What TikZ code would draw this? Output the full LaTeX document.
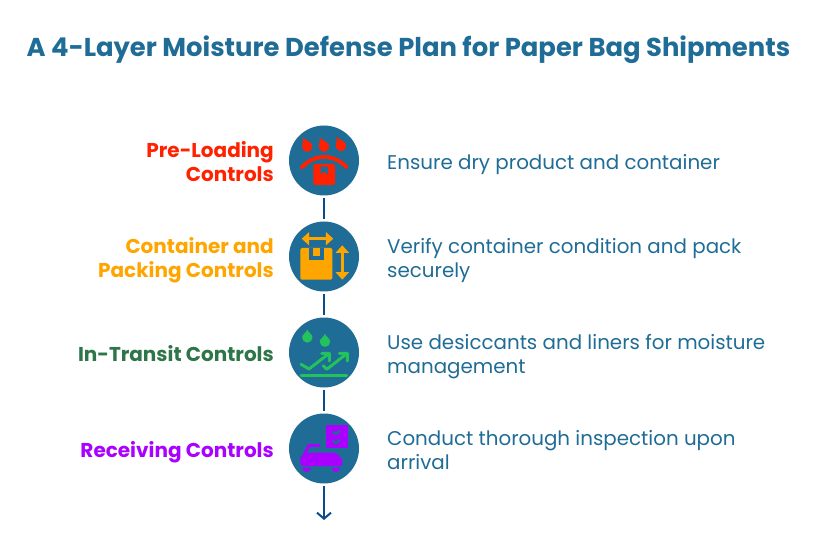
\documentclass[tikz,border=0pt]{standalone}
\usepackage{fontspec}
\setmainfont{Poppins}
\usetikzlibrary{arrows.meta}
\definecolor{bluetone}{HTML}{1F6C96}
\definecolor{linkblue}{HTML}{0A4B8C}
\definecolor{redtone}{HTML}{FF2200}
\definecolor{orangetone}{HTML}{FFA500}
\definecolor{greentone}{HTML}{2E7548}
\definecolor{greenicon}{HTML}{22C25C}
\definecolor{purpletone}{HTML}{AA00FF}
\tikzset{
    stepcircle/.style={circle, fill=bluetone, minimum size=70pt, inner sep=0pt},
    steplabel/.style={anchor=east, align=right, inner sep=0pt, font=\fontsize{20}{24}\selectfont\bfseries},
    stepdesc/.style={anchor=west, align=left, inner sep=0pt, text=bluetone, font=\fontsize{19.85}{24}\selectfont},
    link/.style={linkblue, line width=2pt, shorten <=2.5pt, shorten >=2.5pt},
    doublehead/.style={line width=3.5pt, {Triangle[length=7.5pt, width=13pt]}-{Triangle[length=7.5pt, width=13pt]}}
}
\newcommand{\waterdrop}[4]{% x, y, rotation, tip length
    \fill[shift={(#1,#2)}, rotate=#3] (0,#4) .. controls (0.8,#4*0.6) and (5.2,3.4) .. (5.2,0) arc (0:-180:5.2) .. controls (-5.2,3.4) and (-0.8,#4*0.6) .. (0,#4) -- cycle;
}
\begin{document}
\begin{tikzpicture}[x=1pt, y=1pt]
    \useasboundingbox (0,0) rectangle (817,-556);
    \node[inner sep=0pt, text=bluetone, font=\fontsize{25.85}{30}\selectfont\bfseries] (title) at (408.5,-50) {A 4-Layer Moisture Defense Plan for Paper Bag Shipments};
    \foreach \i/\y in {1/-160.5, 2/-256.5, 3/-352.5, 4/-448.5} {
        \node[stepcircle] (c\i) at (324,\y) {};
    }
    \node[steplabel, text=redtone] (l1) at (274,-165) {\strut Pre-Loading\\\strut Controls};
    \node[steplabel, text=orangetone] (l2) at (274,-261) {\strut Container and\\\strut Packing Controls};
    \node[steplabel, text=greentone] (l3) at (274,-357) {\strut In-Transit Controls};
    \node[steplabel, text=purpletone] (l4) at (274,-453) {\strut Receiving Controls};
    \node[stepdesc] (d1) at (387,-165) {\strut Ensure dry product and container};
    \node[stepdesc] (d2) at (387,-261) {\strut Verify container condition and pack\\\strut securely};
    \node[stepdesc] (d3) at (387,-357) {\strut Use desiccants and liners for moisture\\\strut management};
    \node[stepdesc] (d4) at (387,-453) {\strut Conduct thorough inspection upon\\\strut arrival};
    \coordinate (end) at (324,-520);
    \draw[link] (c1) -- (c2);
    \draw[link] (c2) -- (c3);
    \draw[link] (c3) -- (c4);
    \draw[link, -{Straight Barb[length=6pt, width=14pt]}, shorten >=0pt] (c4) -- (end);
    % pre-loading icon
    \begin{scope}[shift={(c1.center)}, redtone]
        \foreach \x/\y in {-16.7/13.8, 0/13.8, 17/14.5} \waterdrop{\x}{\y}{25}{10.5}
        \draw[line width=3.5pt, line cap=round] (-22.3,-6.8) .. controls (-9,7) and (9,7) .. (22.5,-6.5);
        \fill[rounded corners=2pt] (-10.7,-24.5) rectangle (11,-3.5);
        \fill[bluetone] (-3.5,-6.2) -- (3.8,-6.2) -- (3.8,-13.8) -- (0.15,-11) -- (-3.5,-13.8) -- cycle;
    \end{scope}
    % container icon
    \begin{scope}[shift={(c2.center)}, orangetone]
        \fill[rounded corners=1.5pt] (-23.7,-23.2) rectangle (8.3,8.5);
        \fill[bluetone] (-15,8.5) rectangle (0.3,-3.8);
        \fill (-11.3,8.5) rectangle (-4,0.2);
        \draw[doublehead] (-22.3,17.8) -- (9.3,17.8);
        \draw[doublehead] (18.3,11.2) -- (18.3,-23.2);
    \end{scope}
    % transit icon
    \begin{scope}[shift={(c3.center)}, greenicon]
        \waterdrop{-16.7}{15}{0}{8}
        \waterdrop{1}{10.8}{0}{8}
        \draw[line width=3pt, line cap=round, line join=round] (-23,-11.8) -- (-15,-16.5) -- (5.3,-0.8) (-2.3,-0.8) -- (5.3,-0.8) -- (5.3,-8.5);
        \draw[line width=3pt, line cap=round, line join=round] (-0.7,-13.2) -- (2.7,-16.8) -- (23.3,-0.8) (15.3,-0.8) -- (23.3,-0.8) -- (23.3,-8.5);
        \draw[line width=3pt, line cap=round] (-23,-22.5) -- (22.7,-22.5);
    \end{scope}
    % receiving icon
    \begin{scope}[shift={(c4.center)}, purpletone]
        \fill (1.7,0.2) rectangle (23.7,23.5);
        \draw[bluetone, line width=2.3pt, line join=round] (8.7,16.8) -- (11.7,14.5) -- (16,17.8);
        \draw[bluetone, line width=2.3pt, line join=round] (8.7,7.8) -- (11.7,5.2) -- (16,8.5);
        \fill[rounded corners=2.5pt] (-23.7,-17.5) -- (-23.7,-8.5) -- (-20,-5) -- (-14,-4.2) -- (11.7,-4.2) -- (18.3,-10.8) -- (18.3,-17.5) -- cycle;
        \draw[line width=3pt, line join=round] (-19.5,-6) -- (-15,3.1) -- (-4,3.1);
        \fill (-21.7,-19.2) arc (180:360:4.35 and 4.3) -- cycle;
        \fill (7.7,-19.2) arc (180:360:4.15 and 4.3) -- cycle;
    \end{scope}
\end{tikzpicture}
\end{document}
